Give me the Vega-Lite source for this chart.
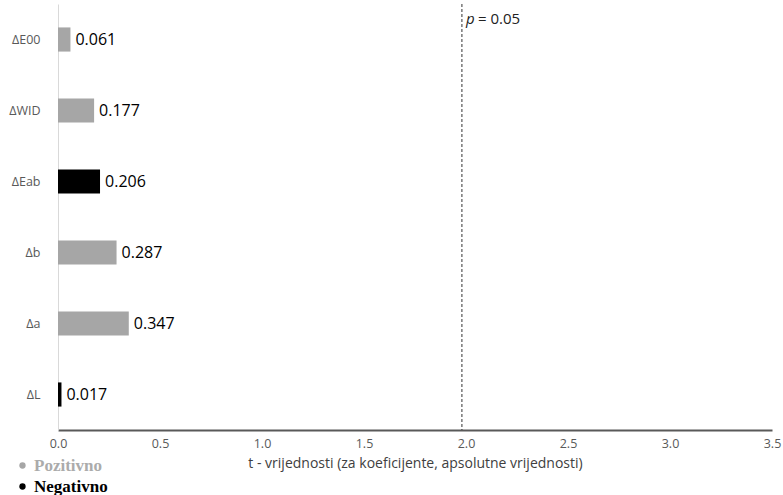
{
  "$schema": "https://vega.github.io/schema/vega-lite/v6.json",
  "width": 714,
  "height": 426,
  "autosize": {"type": "none"},
  "padding": {"left": 58, "top": 4, "right": 11, "bottom": 65},
  "background": "white",
  "config": {"view": {"stroke": null}, "font": "Open Sans"},
  "datasets": {
    "bars": [
      {"var": "ΔE00", "t": 0.061, "sign": "Pozitivno"},
      {"var": "ΔWID", "t": 0.177, "sign": "Pozitivno"},
      {"var": "ΔEab", "t": 0.206, "sign": "Negativno"},
      {"var": "Δb", "t": 0.287, "sign": "Pozitivno"},
      {"var": "Δa", "t": 0.347, "sign": "Pozitivno"},
      {"var": "ΔL", "t": 0.017, "sign": "Negativno"}
    ],
    "crit": [{"t": 1.98, "p": "p", "rest": "= 0.05", "var": "ΔE00"}]
  },
  "layer": [
    {
      "data": {"name": "bars"},
      "mark": {"type": "bar"},
      "encoding": {
        "y": {
          "field": "var", "type": "nominal",
          "sort": ["ΔE00", "ΔWID", "ΔEab", "Δb", "Δa", "ΔL"],
          "scale": {"paddingInner": 0.66, "paddingOuter": 0.33},
          "axis": {"title": null, "ticks": false, "domainColor": "#d9d9d9", "domainWidth": 1, "labelColor": "#595959", "labelFontSize": 12.5, "labelPadding": 18, "labelFont": "Open Sans"}
        },
        "x": {
          "field": "t", "type": "quantitative",
          "scale": {"domain": [0, 3.5], "nice": false},
          "axis": {"title": "t - vrijednosti (za koeficijente, apsolutne vrijednosti)", "values": [0, 0.5, 1, 1.5, 2, 2.5, 3, 3.5], "format": ".1f", "grid": false, "ticks": false, "domainColor": "#595959", "domainWidth": 2, "labelColor": "#595959", "labelFontSize": 12.5, "labelPadding": 7, "labelFont": "Open Sans", "titleFont": "Open Sans", "titleFontSize": 14, "titleFontWeight": "normal", "titleColor": "#404040", "titlePadding": 7, "labelFlush": false}
        },
        "color": {
          "field": "sign", "type": "nominal",
          "scale": {"domain": ["Pozitivno", "Negativno"], "range": ["#a6a6a6", "#000000"]},
          "legend": {
            "title": null, "orient": "none", "legendX": -44, "legendY": 453,
            "symbolType": "circle", "symbolSize": 40, "symbolStrokeWidth": 0,
            "labelFont": "Liberation Serif", "labelFontSize": 17, "labelFontWeight": "bold",
            "labelOffset": 3, "rowPadding": 3, "padding": 0,
            "encode": {"labels": {"update": {"fill": {"signal": "datum.label === 'Pozitivno' ? '#ababab' : '#000000'"}}}}
          }
        }
      }
    },
    {
      "data": {"name": "bars"},
      "mark": {"type": "text", "align": "left", "baseline": "middle", "dx": 5, "fontSize": 16, "font": "Open Sans", "color": "#000000"},
      "encoding": {
        "y": {"field": "var", "type": "nominal", "sort": ["ΔE00", "ΔWID", "ΔEab", "Δb", "Δa", "ΔL"]},
        "x": {"field": "t", "type": "quantitative"},
        "text": {"field": "t", "type": "quantitative", "format": ".3f"}
      }
    },
    {
      "data": {"name": "crit"},
      "mark": {"type": "rule", "strokeDash": [3, 2], "color": "#333333", "strokeWidth": 1},
      "encoding": {"x": {"field": "t", "type": "quantitative"}}
    },
    {
      "data": {"name": "crit"},
      "mark": {"type": "text", "align": "left", "baseline": "middle", "dx": 4, "dy": -21, "fontSize": 15, "fontStyle": "italic", "font": "Open Sans", "color": "#222222"},
      "encoding": {
        "x": {"field": "t", "type": "quantitative"},
        "y": {"field": "var", "type": "nominal", "sort": ["ΔE00", "ΔWID", "ΔEab", "Δb", "Δa", "ΔL"]},
        "text": {"field": "p"}
      }
    },
    {
      "data": {"name": "crit"},
      "mark": {"type": "text", "align": "left", "baseline": "middle", "dx": 16, "dy": -21, "fontSize": 15, "font": "Open Sans", "color": "#222222"},
      "encoding": {
        "x": {"field": "t", "type": "quantitative"},
        "y": {"field": "var", "type": "nominal", "sort": ["ΔE00", "ΔWID", "ΔEab", "Δb", "Δa", "ΔL"]},
        "text": {"field": "rest"}
      }
    }
  ]
}
